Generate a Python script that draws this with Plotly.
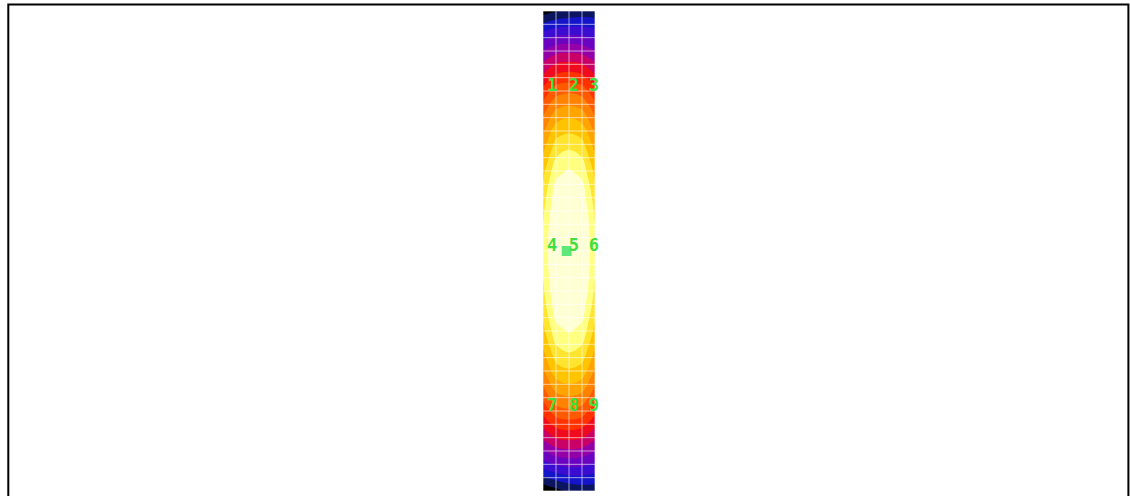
import plotly.graph_objects as go

# Node positions of the strip field (x across 4 cells, y down 36 rows)
col_x = [0, 1, 2, 3, 4]
row_y = [0, 2, 4, 6, 8, 10, 12, 14, 16, 18, 20, 22, 24, 26, 28, 30, 32, 34, 36]

# Field values at each node, one list per row (top to bottom)
field = [
    [-0.030, -0.003, 0.010, 0.020, 0.020],
    [0.160, 0.187, 0.193, 0.187, 0.165],
    [0.302, 0.353, 0.364, 0.353, 0.302],
    [0.424, 0.496, 0.511, 0.496, 0.424],
    [0.528, 0.617, 0.636, 0.617, 0.528],
    [0.613, 0.716, 0.738, 0.716, 0.613],
    [0.679, 0.793, 0.818, 0.793, 0.679],
    [0.726, 0.848, 0.875, 0.848, 0.726],
    [0.754, 0.881, 0.909, 0.881, 0.754],
    [0.764, 0.892, 0.920, 0.892, 0.764],
    [0.754, 0.881, 0.909, 0.881, 0.754],
    [0.726, 0.848, 0.875, 0.848, 0.726],
    [0.679, 0.793, 0.818, 0.793, 0.679],
    [0.613, 0.716, 0.738, 0.716, 0.613],
    [0.528, 0.617, 0.636, 0.617, 0.528],
    [0.424, 0.496, 0.511, 0.496, 0.424],
    [0.302, 0.353, 0.364, 0.353, 0.302],
    [0.150, 0.180, 0.193, 0.187, 0.165],
    [-0.050, -0.020, 0.008, 0.020, 0.020],
]

# Band colours, lowest band first
band_colors = [
    "#000000", "#0c1660", "#1414c8", "#3c0cd0", "#6a04c0", "#9400a8",
    "#c80068", "#f00a1e", "#ff3200", "#ff5a00", "#ff8200", "#ffa400",
    "#ffc400", "#ffe430", "#ffff80", "#ffffd4",
]
level_start = 0.0
level_size = 0.058

# Numbered probe points
label_text = ["1", "2", "3", "4", "5", "6", "7", "8", "9"]
label_x = [0.7, 2.38, 3.92, 0.7, 2.38, 3.92, 0.7, 2.38, 3.92]
label_y = [5.65, 5.65, 5.65, 17.65, 17.65, 17.65, 29.65, 29.65, 29.65]

# Marked point
marker_x = [1.82]
marker_y = [18.0]

n_bands = len(band_colors)
colorscale = [[i / (n_bands - 1), c] for i, c in enumerate(band_colors)]

fig = go.Figure()
fig.add_trace(go.Contour(
    x=col_x, y=row_y, z=field,
    autocontour=False,
    contours=dict(start=level_start,
                  end=level_start + (n_bands - 2) * level_size,
                  size=level_size, coloring="fill", showlines=False),
    colorscale=colorscale, showscale=False,
    line=dict(width=0, smoothing=1),
    hoverinfo="skip",
))

# Cell grid drawn on top of the field
n_cols = col_x[-1] - col_x[0]
n_rows = row_y[-1] - row_y[0]
gx, gy = [], []
for i in range(n_cols + 1):
    gx += [col_x[0] + i, col_x[0] + i, None]
    gy += [row_y[0], row_y[-1], None]
for j in range(n_rows + 1):
    gx += [col_x[0], col_x[-1], None]
    gy += [row_y[0] + j, row_y[0] + j, None]
fig.add_trace(go.Scatter(
    x=gx, y=gy, mode="lines",
    line=dict(color="rgba(255,255,255,0.6)", width=1),
    hoverinfo="skip", showlegend=False,
))

fig.add_trace(go.Scatter(
    x=marker_x, y=marker_y, mode="markers",
    marker=dict(symbol="square", size=10, color="#5fe87a"),
    hoverinfo="skip", showlegend=False,
))

fig.add_trace(go.Scatter(
    x=label_x, y=label_y, mode="text", text=label_text,
    textposition="middle center",
    textfont=dict(family="DejaVu Sans Mono", size=17, color="#3ee03e",
                  weight="bold"),
    hoverinfo="skip", showlegend=False,
))

W, H = 1130, 496
px_x = 13.0     # pixels per column
px_y = 13.333   # pixels per row
left_px, top_px = 543, 11

fig.update_layout(
    width=W, height=H,
    margin=dict(l=0, r=0, t=0, b=0),
    paper_bgcolor="white", plot_bgcolor="white",
    showlegend=False,
    xaxis=dict(range=[-left_px / px_x, (W - left_px) / px_x],
               visible=False, fixedrange=True),
    yaxis=dict(range=[(H - top_px) / px_y, -top_px / px_y],
               visible=False, fixedrange=True),
    shapes=[dict(type="rect", xref="paper", yref="paper",
                 x0=8.3 / W, x1=1128.4 / W, y0=-0.05, y1=1 - 4.6 / H,
                 line=dict(color="black", width=2))],
)

fig.write_html("out.html")
